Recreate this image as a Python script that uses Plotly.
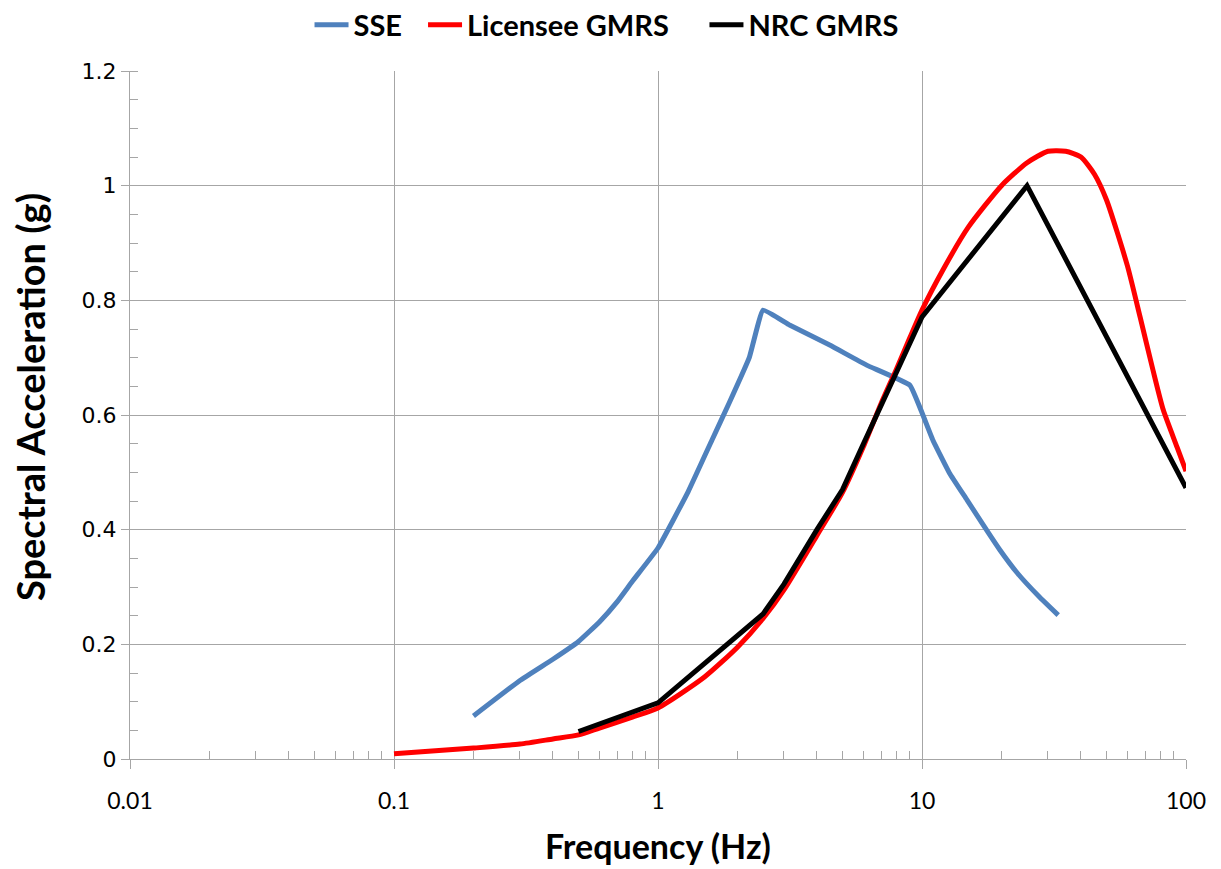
import plotly.graph_objects as go

# SSE
sse_freq = [0.2, 0.3, 0.4, 0.5, 0.6, 0.7, 0.8, 1.0, 1.3, 1.6, 1.86, 2.22, 2.5, 3.15, 4.47, 6.17, 9.0, 10.0, 11.0, 12.7, 14.8, 17.7, 19.7, 23.0, 27.8, 32.8]
sse_acc = [0.075, 0.137, 0.174, 0.205, 0.239, 0.274, 0.31, 0.368, 0.466, 0.556, 0.621, 0.701, 0.783, 0.757, 0.722, 0.687, 0.652, 0.604, 0.556, 0.499, 0.452, 0.397, 0.365, 0.324, 0.283, 0.251]

# Licensee GMRS
lic_freq = [0.1, 0.2, 0.3, 0.4, 0.5, 0.6, 0.8, 1.0, 1.5, 2.0, 2.5, 3.0, 4.0, 5.0, 6.0, 7.0, 8.0, 9.0, 10.0, 12.0, 15.0, 20.0, 25.0, 30.0, 35.0, 40.0, 45.0, 50.0, 60.0, 67.0, 75.0, 82.0, 92.5, 100.0]
lic_acc = [0.009, 0.019, 0.026, 0.035, 0.042, 0.054, 0.073, 0.089, 0.143, 0.195, 0.245, 0.295, 0.39, 0.465, 0.545, 0.62, 0.68, 0.735, 0.783, 0.853, 0.928, 1.0, 1.04, 1.06, 1.06, 1.05, 1.02, 0.975, 0.86, 0.771, 0.678, 0.609, 0.544, 0.502]

# NRC GMRS
nrc_freq = [0.5, 1.0, 2.5, 3.0, 4.0, 5.0, 6.0, 7.0, 8.0, 9.0, 10.0, 25.0, 100.0]
nrc_acc = [0.048, 0.098, 0.253, 0.305, 0.40, 0.47, 0.55, 0.618, 0.675, 0.725, 0.771, 1.0, 0.473]

x_major = [0.01, 0.1, 1, 10, 100]
x_major_text = ["0.01", "0.1", "1", "10", "100"]
x_minor = [m * 10.0 ** k for k in range(-2, 2) for m in range(2, 10)]
y_major = [0, 0.2, 0.4, 0.6, 0.8, 1.0, 1.2]
y_major_text = ["0", "0.2", "0.4", "0.6", "0.8", "1", "1.2"]

fig = go.Figure()
fig.add_trace(go.Scatter(x=sse_freq, y=sse_acc, mode="lines", name="SSE", legend="legend",
                         showlegend=True,
                         line=dict(color="#4f81bd", width=5, shape="spline", smoothing=0.3)))
fig.add_trace(go.Scatter(x=lic_freq, y=lic_acc, mode="lines", name="Licensee GMRS", legend="legend2",
                         showlegend=True,
                         line=dict(color="#ff0000", width=5, shape="spline", smoothing=0.6)))
fig.add_trace(go.Scatter(x=nrc_freq, y=nrc_acc, mode="lines", name="NRC GMRS", legend="legend3",
                         showlegend=True,
                         line=dict(color="#000000", width=5)))

grid = "#a6a6a6"
leg_font = dict(size=29, family="Lato, sans-serif", weight="bold", color="black")


def leg(xpos):
    return dict(orientation="h", x=xpos, xanchor="left", xref="paper",
                y=1 - 17 / 861, yanchor="middle", yref="container",
                font=leg_font, bgcolor="rgba(0,0,0,0)", borderwidth=0,
                itemwidth=34)


fig.update_layout(
    width=1213, height=861,
    showlegend=True,
    paper_bgcolor="white", plot_bgcolor="white",
    margin=dict(l=122, r=35, t=63, b=110, autoexpand=False),
    font=dict(family="Lato, 'Liberation Sans', sans-serif", color="black"),
    legend=leg(0.1700),
    legend2=leg(0.2775),
    legend3=leg(0.5440),
    xaxis=dict(
        type="log", range=[-2, 2],
        showgrid=True, gridcolor=grid, gridwidth=1,
        showline=True, linecolor=grid, linewidth=1,
        ticks="outside", ticklen=9, tickcolor=grid,
        tickvals=x_major, ticktext=x_major_text,
        tickfont=dict(size=23, family="Lato, sans-serif"),
        ticklabelstandoff=12,
        minor=dict(tickvals=x_minor, ticks="inside", ticklen=8, tickcolor=grid, showgrid=False),
        zeroline=False,
    ),
    yaxis=dict(
        range=[0, 1.2],
        showgrid=True, gridcolor=grid, gridwidth=1,
        showline=True, linecolor=grid, linewidth=1,
        ticks="outside", ticklen=8, tickcolor=grid,
        tickvals=y_major, ticktext=y_major_text,
        tickfont=dict(size=22, family="DejaVu Sans, sans-serif"),
        minor=dict(dtick=0.05, ticks="inside", ticklen=8, tickcolor=grid, showgrid=False),
        zeroline=False,
    ),
    annotations=[
        dict(text="<b>Frequency (Hz)</b>", x=0.5, y=(751 - 837) / 688, xref="paper", yref="paper",
             xanchor="center", yanchor="middle", showarrow=False,
             font=dict(size=34, family="Lato, sans-serif", color="black")),
        dict(text="<b>Spectral Acceleration (g)</b>", x=(22 - 122) / 1056, y=(751 - 389) / 688,
             xref="paper", yref="paper", xanchor="center", yanchor="middle", showarrow=False,
             textangle=-90, font=dict(size=38, family="Lato, sans-serif", color="black")),
    ],
)

fig.write_html("out.html")
